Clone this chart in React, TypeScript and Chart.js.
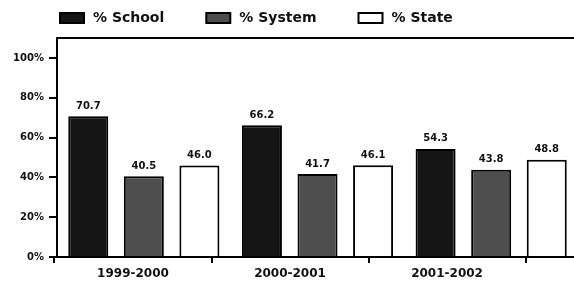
import React, { useEffect, useRef } from "react";
import { Chart, registerables } from "chart.js";

Chart.register(...registerables);

const categories = ["1999-2000", "2000-2001", "2001-2002"];
const seriesNames = ["% School", "% System", "% State"];
const schoolValues = [70.7, 66.2, 54.3];
const systemValues = [40.5, 41.7, 43.8];
const stateValues = [46.0, 46.1, 48.8];
const yTickValues = [0, 20, 40, 60, 80, 100];

const FONT = "'DejaVu Sans', Verdana, sans-serif";
const colors = ["#151515", "#4e4e4e", "#ffffff"];

const valueLabels = {
  id: "valueLabels",
  afterDatasetsDraw(chart: any) {
    const ctx = chart.ctx;
    ctx.save();
    ctx.font = `bold 10px ${FONT}`;
    ctx.fillStyle = "#111";
    ctx.textAlign = "center";
    ctx.textBaseline = "bottom";
    chart.data.datasets.forEach((ds: any, i: number) => {
      const meta = chart.getDatasetMeta(i);
      meta.data.forEach((el: any, j: number) => {
        ctx.fillText(Number(ds.data[j]).toFixed(1), el.x, el.y - 5);
      });
    });
    ctx.restore();
  },
};

const customLegend = {
  id: "customLegend",
  afterDraw(chart: any) {
    const ctx = chart.ctx;
    ctx.save();
    ctx.font = `bold 14px ${FONT}`;
    ctx.textBaseline = "middle";
    ctx.textAlign = "left";
    let x = 60;
    const y = 13;
    chart.data.datasets.forEach((ds: any) => {
      ctx.fillStyle = ds.backgroundColor;
      ctx.fillRect(x, y, 24, 10);
      ctx.strokeStyle = "#000";
      ctx.lineWidth = 2;
      ctx.strokeRect(x, y, 24, 10);
      ctx.fillStyle = "#111";
      ctx.fillText(ds.label, x + 33, y + 5);
      x += 33 + ctx.measureText(ds.label).width + 42;
    });
    ctx.restore();
  },
};

export default function App() {
  const ref = useRef<HTMLCanvasElement>(null);
  useEffect(() => {
    if (!ref.current) return;
    const seriesValues = [schoolValues, systemValues, stateValues];
    const chart = new Chart(ref.current, {
      type: "bar",
      data: {
        labels: categories,
        datasets: seriesNames.map((name, i) => ({
          label: name,
          data: seriesValues[i],
          backgroundColor: colors[i],
          borderColor: "#000",
          borderWidth: 2,
          barPercentage: 0.72,
          categoryPercentage: 0.96,
          xAxisID: "x",
          yAxisID: "y",
        })),
      },
      options: {
        animation: false,
        responsive: false,
        maintainAspectRatio: false,
        layout: { padding: { top: 38, left: 0, right: 0, bottom: 0 } },
        plugins: { legend: { display: false }, tooltip: { enabled: false } },
        scales: {
          x: { type: "category", display: false, offset: true },
          x2: {
            type: "linear",
            position: "bottom",
            offset: false,
            min: 0.016,
            max: 3.334,
            afterBuildTicks(scale: any) {
              scale.ticks = [0, 0.5, 1, 1.5, 2, 2.5, 3].map((v) => ({ value: v }));
            },
            afterFit(scale: any) {
              scale.height = 30;
            },
            ticks: {
              autoSkip: false,
              maxRotation: 0,
              padding: 4,
              color: "#111",
              font: { family: FONT, size: 12, weight: "bold" },
              callback: (v: any) => {
                const idx = Number(v) - 0.5;
                return Number.isInteger(idx) ? categories[idx] : "";
              },
            },
            grid: {
              offset: false,
              drawOnChartArea: false,
              tickLength: 6,
              lineWidth: 2,
              tickColor: (c: any) =>
                c.tick && Number.isInteger(c.tick.value) ? "#000" : "rgba(0,0,0,0)",
            },
            border: { display: true, color: "#000", width: 2 },
          },
          y: {
            min: 0,
            max: 110,
            position: "left",
            afterBuildTicks(scale: any) {
              scale.ticks = [...yTickValues, 110].map((v) => ({ value: v }));
            },
            afterFit(scale: any) {
              scale.width = 57;
            },
            ticks: {
              padding: 5,
              color: "#111",
              font: { family: FONT, size: 10, weight: "bold" },
              callback: (v: any) => (Number(v) > 100 ? "" : `${v}%`),
            },
            grid: {
              drawOnChartArea: true,
              lineWidth: 2,
              tickLength: 8,
              color: (c: any) =>
                c.tick && c.tick.value === 110 ? "#000" : "rgba(0,0,0,0)",
              tickColor: (c: any) =>
                c.tick && c.tick.value === 110 ? "rgba(0,0,0,0)" : "#000",
            },
            border: { display: true, color: "#000", width: 2 },
          },
        },
      },
      plugins: [valueLabels, customLegend],
    } as any);
    return () => chart.destroy();
  }, []);
  return (
    <div style={{ position: "fixed", left: 0, top: 0, width: 574, height: 287, overflow: "hidden", background: "#fff" }}>
      <canvas ref={ref} width={578} height={287} />
    </div>
  );
}
